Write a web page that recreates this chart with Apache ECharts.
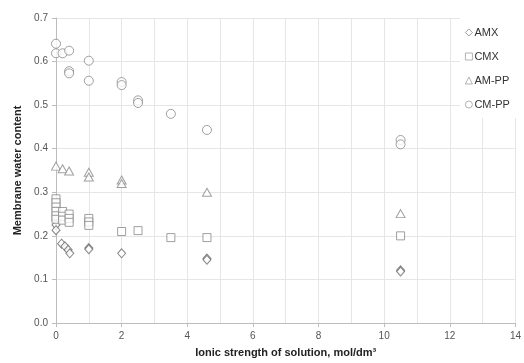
<!DOCTYPE html>
<html>
<head>
<meta charset="utf-8">
<script src="https://cdn.jsdelivr.net/npm/echarts@6/dist/echarts.min.js"></script>
<style>
  html, body { margin: 0; padding: 0; background: #fff; }
  #chart { width: 524px; height: 363px; }
</style>
</head>
<body>
<div id="chart"></div>
<script>
// legend names
var seriesNames = ['AMX', 'CMX', 'AM-PP', 'CM-PP'];

// ionic strength (x) and water content (y)
var amxX = [0, 0, 0, 0.17, 0.27, 0.37, 0.42, 1, 1, 2, 4.6, 4.6, 10.5, 10.5];
var amxY = [0.235, 0.225, 0.213, 0.182, 0.176, 0.168, 0.160, 0.172, 0.169, 0.160, 0.148, 0.145, 0.121, 0.118];

var cmxX = [0, 0, 0, 0, 0, 0, 0.2, 0.2, 0.2, 0.4, 0.4, 0.4, 1, 1, 1, 2, 2.5, 3.5, 4.6, 10.5];
var cmxY = [0.285, 0.276, 0.266, 0.256, 0.246, 0.238, 0.256, 0.245, 0.236, 0.250, 0.240, 0.231, 0.240, 0.232, 0.224, 0.210, 0.212, 0.196, 0.196, 0.200];

var amppX = [0, 0.2, 0.4, 1, 1, 2, 2, 4.6, 10.5];
var amppY = [0.360, 0.354, 0.349, 0.346, 0.335, 0.328, 0.320, 0.300, 0.251];

var cmppX = [0, 0, 0.2, 0.4, 0.4, 0.4, 1, 1, 2, 2, 2.5, 2.5, 3.5, 4.6, 10.5, 10.5];
var cmppY = [0.641, 0.619, 0.619, 0.625, 0.578, 0.573, 0.602, 0.556, 0.553, 0.546, 0.511, 0.505, 0.480, 0.443, 0.420, 0.410];

function pairs(xs, ys) {
  return xs.map(function (x, i) { return [x, ys[i]]; });
}

var chart = echarts.init(document.getElementById('chart'));

var markStyle = function (c) {
  return { color: '#fff', borderColor: c, borderWidth: 1 };
};

var option = {
  backgroundColor: '#ffffff',
  animation: false,
  textStyle: { fontFamily: 'Liberation Sans, Arial, sans-serif' },
  grid: { left: 56, right: 2, top: 18, bottom: 36 },
  legend: {
    orient: 'vertical',
    left: 460,
    top: 18,
    padding: [9, 10, 8, 5],
    backgroundColor: '#ffffff',
    itemWidth: 7,
    itemHeight: 7,
    itemGap: 13,
    itemStyle: { borderWidth: 0.8 },
    textStyle: { fontSize: 11, color: '#333', padding: [0, 0, 0, -3] },
    data: seriesNames
  },
  xAxis: {
    type: 'value',
    min: 0,
    max: 14,
    interval: 2,
    name: 'Ionic strength of solution, mol/dm\u00b3',
    nameLocation: 'middle',
    nameGap: 24,
    nameTextStyle: { fontSize: 11, fontWeight: 'bold', color: '#222' },
    axisLine: { show: true, lineStyle: { color: '#bdbdbd' } },
    axisTick: { show: true, length: 4, lineStyle: { color: '#bdbdbd' } },
    axisLabel: { fontSize: 10, color: '#555', margin: 8 },
    splitLine: { show: true, lineStyle: { color: '#e6e6e6' } },
    minorTick: { show: false, splitNumber: 2 },
    minorSplitLine: { show: true, lineStyle: { color: '#e6e6e6' } }
  },
  yAxis: {
    type: 'value',
    min: 0,
    max: 0.7,
    interval: 0.1,
    name: 'Membrane water content',
    nameLocation: 'middle',
    nameGap: 32,
    nameTextStyle: { fontSize: 11, fontWeight: 'bold', color: '#222' },
    axisLine: { show: true, lineStyle: { color: '#bdbdbd' } },
    axisTick: { show: true, length: 4, lineStyle: { color: '#bdbdbd' } },
    axisLabel: {
      fontSize: 10, color: '#555', margin: 8,
      formatter: function (v) { return v.toFixed(1); }
    },
    splitLine: { show: true, lineStyle: { color: '#e6e6e6' } }
  },
  series: [
    {
      name: 'AMX', type: 'scatter', symbol: 'diamond', symbolSize: [8, 9],
      itemStyle: markStyle('#666'),
      data: pairs(amxX, amxY)
    },
    {
      name: 'CMX', type: 'scatter', symbol: 'rect', symbolSize: 8,
      itemStyle: markStyle('#888'),
      data: pairs(cmxX, cmxY)
    },
    {
      name: 'AM-PP', type: 'scatter', symbol: 'triangle', symbolSize: [9, 8],
      itemStyle: markStyle('#888'),
      data: pairs(amppX, amppY)
    },
    {
      name: 'CM-PP', type: 'scatter', symbol: 'circle', symbolSize: 9,
      itemStyle: markStyle('#888'),
      data: pairs(cmppX, cmppY)
    }
  ]
};

chart.setOption(option);
</script>
</body>
</html>
